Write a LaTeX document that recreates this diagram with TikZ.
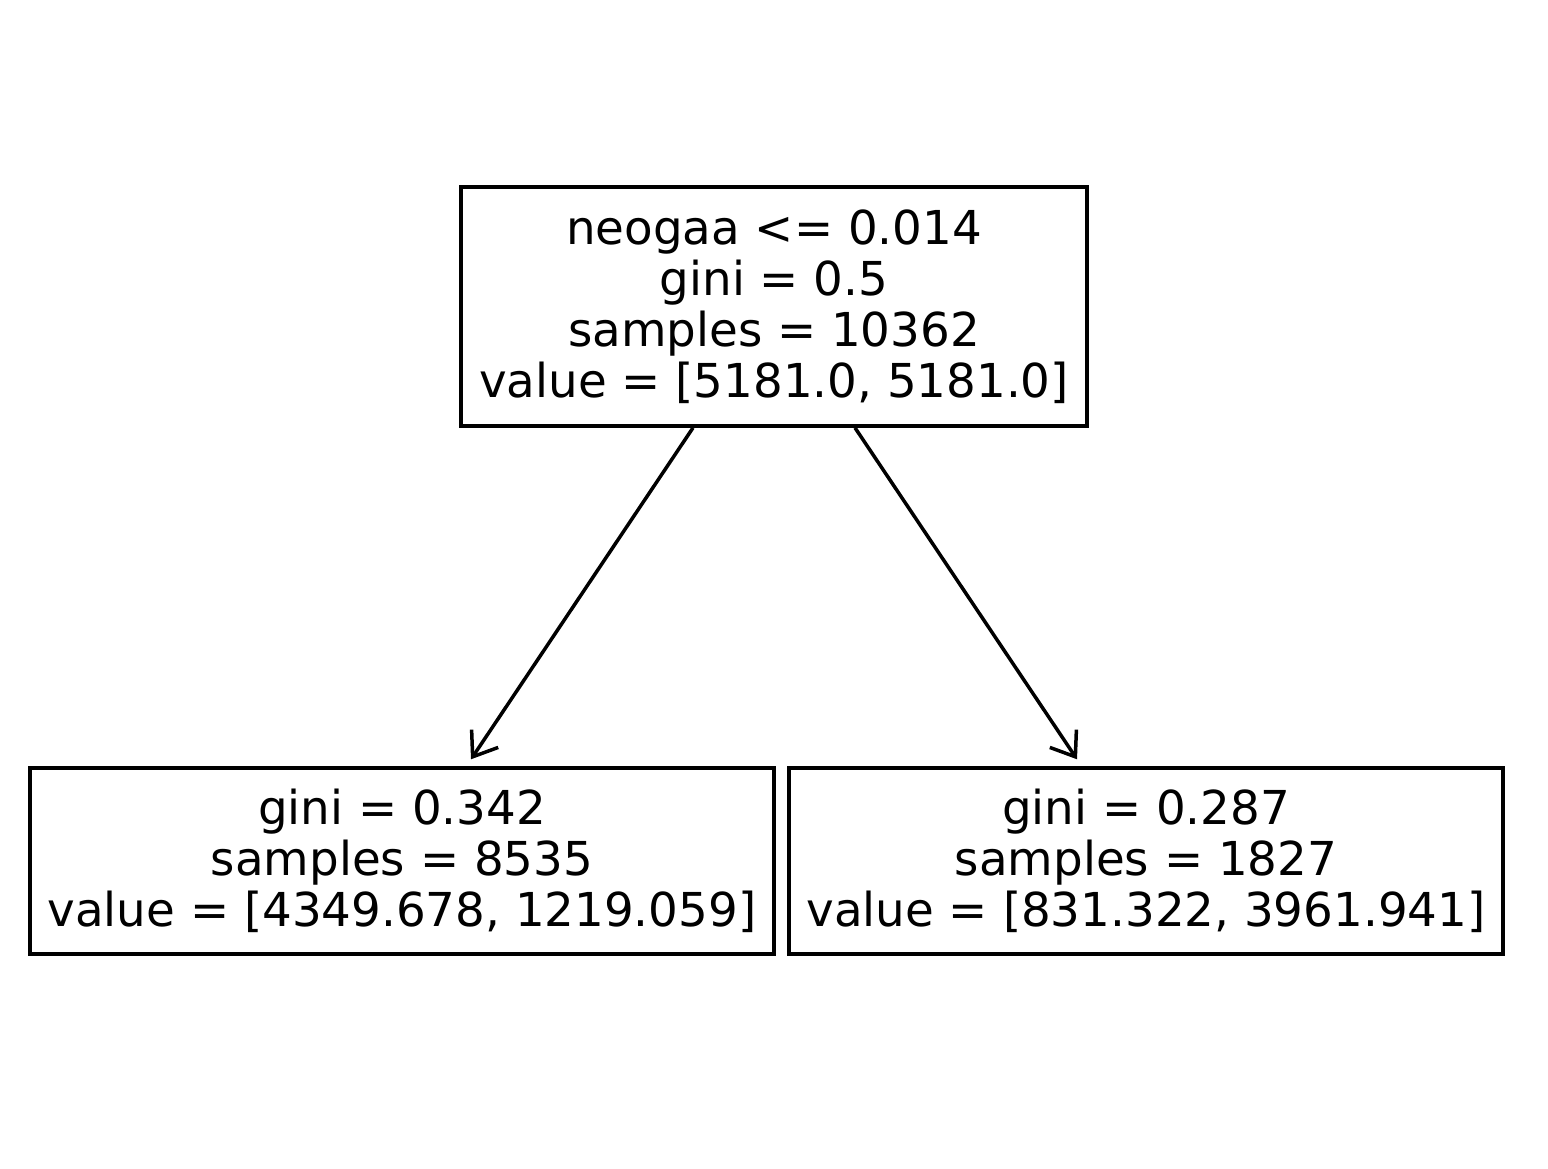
\documentclass[tikz,border=0pt]{standalone}
\usepackage{fontspec}
\setmainfont{DejaVu Sans}
\usetikzlibrary{arrows.meta,positioning}

\begin{document}
\begin{tikzpicture}[
  split/.style={draw, line width=0.035cm, align=center, inner sep=0pt,
                font=\fontsize{13.3}{14.5}\selectfont, minimum width=#1},
  leaf/.style={split=#1, minimum height=1.86cm},
  arr/.style={-{Straight Barb[length=2.2mm, width=3.2mm]}, line width=0.035cm}]
\useasboundingbox (0,0) rectangle (15.48,-11.68);
\node[split=6.26cm, minimum height=2.39cm] (root) at (7.74,-3.065)
  {neogaa <= 0.014\\gini = 0.5\\samples = 10362\\value = [5181.0, 5181.0]};
\node[leaf=7.44cm] (lo) at (4.02,-8.61)
  {gini = 0.342\\samples = 8535\\value = [4349.678, 1219.059]};
\node[leaf=7.14cm] (hi) at (11.46,-8.61)
  {gini = 0.287\\samples = 1827\\value = [831.322, 3961.941]};
\draw[arr] ([xshift=-0.81cm]root.south) -- ([xshift=0.69cm, yshift=0.07cm]lo.north);
\draw[arr] ([xshift=0.81cm]root.south) -- ([xshift=-0.69cm, yshift=0.07cm]hi.north);
\end{tikzpicture}
\end{document}
